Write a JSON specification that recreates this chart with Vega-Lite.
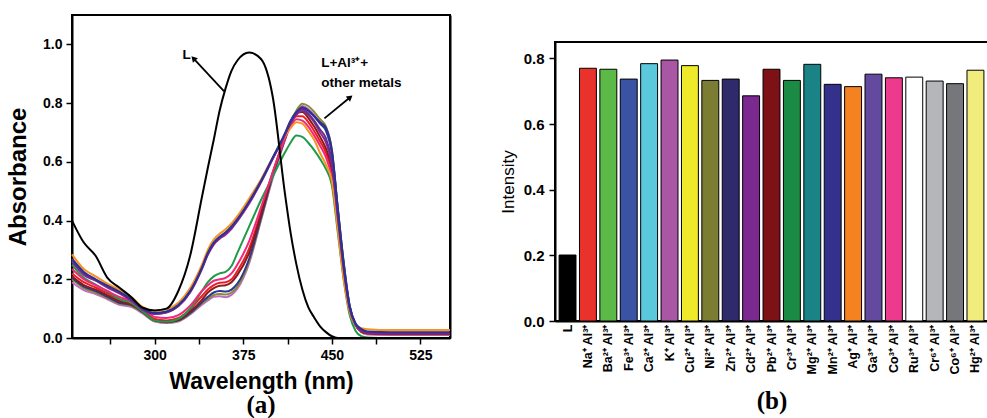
{
  "$schema": "https://vega.github.io/schema/vega-lite/v6.json",
  "padding": {"left": 5, "top": 14, "right": 0, "bottom": 0},
  "background": "white",
  "spacing": 43,
  "resolve": {"scale": {"color": "independent"}},
  "config": {
    "font": "Liberation Sans",
    "view": {"stroke": "black", "strokeWidth": 2},
    "axis": {"domainColor": "black", "domainWidth": 2, "tickColor": "black", "tickWidth": 1.5, "labelColor": "black", "titleColor": "black", "grid": false, "labelFont": "Liberation Sans", "labelFontWeight": "bold", "labelFontSize": 14, "titleFont": "Liberation Sans"}
  },
  "datasets": {
    "spec": [
      {"w":230,"L":0.40,"Ag":0.285,"Mn":0.27,"Ga":0.265,"Cd":0.26,"Co":0.235,"Pb":0.21,"Na":0.22,"Cr":0.25,"Fe":0.205,"Ni":0.2,"K":0.19},
      {"w":240,"L":0.325,"Ag":0.235,"Mn":0.225,"Ga":0.22,"Cd":0.215,"Co":0.2,"Pb":0.18,"Na":0.19,"Cr":0.205,"Fe":0.175,"Ni":0.17,"K":0.163},
      {"w":250,"L":0.28,"Ag":0.21,"Mn":0.2,"Ga":0.198,"Cd":0.195,"Co":0.18,"Pb":0.165,"Na":0.172,"Cr":0.182,"Fe":0.16,"Ni":0.155,"K":0.15},
      {"w":260,"L":0.205,"Ag":0.185,"Mn":0.178,"Ga":0.175,"Cd":0.172,"Co":0.16,"Pb":0.145,"Na":0.152,"Cr":0.158,"Fe":0.14,"Ni":0.136,"K":0.132},
      {"w":270,"L":0.172,"Ag":0.165,"Mn":0.158,"Ga":0.155,"Cd":0.152,"Co":0.14,"Pb":0.125,"Na":0.132,"Cr":0.133,"Fe":0.12,"Ni":0.117,"K":0.113},
      {"w":280,"L":0.14,"Ag":0.14,"Mn":0.133,"Ga":0.13,"Cd":0.128,"Co":0.125,"Pb":0.115,"Na":0.12,"Cr":0.12,"Fe":0.113,"Ni":0.11,"K":0.106},
      {"w":290,"L":0.103,"Ag":0.105,"Mn":0.1,"Ga":0.098,"Cd":0.096,"Co":0.1,"Pb":0.09,"Na":0.095,"Cr":0.09,"Fe":0.088,"Ni":0.086,"K":0.083},
      {"w":300,"L":0.094,"Ag":0.093,"Mn":0.085,"Ga":0.083,"Cd":0.082,"Co":0.072,"Pb":0.06,"Na":0.065,"Cr":0.06,"Fe":0.06,"Ni":0.058,"K":0.056},
      {"w":310,"L":0.1,"Ag":0.098,"Mn":0.09,"Ga":0.088,"Cd":0.087,"Co":0.068,"Pb":0.055,"Na":0.06,"Cr":0.055,"Fe":0.054,"Ni":0.053,"K":0.051},
      {"w":320,"L":0.16,"Ag":0.12,"Mn":0.112,"Ga":0.11,"Cd":0.108,"Co":0.078,"Pb":0.062,"Na":0.068,"Cr":0.065,"Fe":0.06,"Ni":0.058,"K":0.056},
      {"w":330,"L":0.28,"Ag":0.17,"Mn":0.16,"Ga":0.158,"Cd":0.155,"Co":0.11,"Pb":0.09,"Na":0.098,"Cr":0.1,"Fe":0.085,"Ni":0.083,"K":0.08},
      {"w":340,"L":0.48,"Ag":0.25,"Mn":0.24,"Ga":0.238,"Cd":0.235,"Co":0.16,"Pb":0.13,"Na":0.143,"Cr":0.16,"Fe":0.122,"Ni":0.118,"K":0.113},
      {"w":345,"L":0.58,"Ag":0.3,"Mn":0.29,"Ga":0.287,"Cd":0.283,"Co":0.18,"Pb":0.155,"Na":0.165,"Cr":0.19,"Fe":0.14,"Ni":0.133,"K":0.128},
      {"w":350,"L":0.675,"Ag":0.335,"Mn":0.325,"Ga":0.322,"Cd":0.318,"Co":0.195,"Pb":0.17,"Na":0.18,"Cr":0.21,"Fe":0.155,"Ni":0.146,"K":0.14},
      {"w":355,"L":0.775,"Ag":0.355,"Mn":0.345,"Ga":0.342,"Cd":0.338,"Co":0.2,"Pb":0.178,"Na":0.188,"Cr":0.22,"Fe":0.16,"Ni":0.15,"K":0.142},
      {"w":360,"L":0.85,"Ag":0.37,"Mn":0.36,"Ga":0.357,"Cd":0.352,"Co":0.205,"Pb":0.18,"Na":0.19,"Cr":0.225,"Fe":0.158,"Ni":0.148,"K":0.139},
      {"w":365,"L":0.91,"Ag":0.39,"Mn":0.38,"Ga":0.377,"Cd":0.372,"Co":0.22,"Pb":0.19,"Na":0.2,"Cr":0.245,"Fe":0.165,"Ni":0.155,"K":0.147},
      {"w":370,"L":0.945,"Ag":0.415,"Mn":0.405,"Ga":0.402,"Cd":0.398,"Co":0.25,"Pb":0.215,"Na":0.228,"Cr":0.29,"Fe":0.185,"Ni":0.175,"K":0.168},
      {"w":380,"L":0.972,"Ag":0.475,"Mn":0.465,"Ga":0.462,"Cd":0.458,"Co":0.33,"Pb":0.29,"Na":0.305,"Cr":0.38,"Fe":0.27,"Ni":0.262,"K":0.255},
      {"w":390,"L":0.95,"Ag":0.54,"Mn":0.535,"Ga":0.532,"Cd":0.53,"Co":0.445,"Pb":0.42,"Na":0.43,"Cr":0.47,"Fe":0.41,"Ni":0.405,"K":0.4},
      {"w":400,"L":0.82,"Ag":0.615,"Mn":0.615,"Ga":0.612,"Cd":0.61,"Co":0.565,"Pb":0.56,"Na":0.565,"Cr":0.55,"Fe":0.555,"Ni":0.55,"K":0.545},
      {"w":410,"L":0.5,"Ag":0.685,"Mn":0.695,"Ga":0.69,"Cd":0.69,"Co":0.675,"Pb":0.68,"Na":0.68,"Cr":0.63,"Fe":0.675,"Ni":0.675,"K":0.67},
      {"w":415,"L":0.36,"Ag":0.715,"Mn":0.74,"Ga":0.735,"Cd":0.73,"Co":0.72,"Pb":0.735,"Na":0.73,"Cr":0.665,"Fe":0.73,"Ni":0.735,"K":0.73},
      {"w":420,"L":0.25,"Ag":0.735,"Mn":0.77,"Ga":0.765,"Cd":0.76,"Co":0.745,"Pb":0.765,"Na":0.755,"Cr":0.69,"Fe":0.765,"Ni":0.775,"K":0.77},
      {"w":425,"L":0.165,"Ag":0.73,"Mn":0.785,"Ga":0.78,"Cd":0.775,"Co":0.74,"Pb":0.77,"Na":0.755,"Cr":0.685,"Fe":0.785,"Ni":0.798,"K":0.79},
      {"w":430,"L":0.105,"Ag":0.705,"Mn":0.775,"Ga":0.765,"Cd":0.76,"Co":0.72,"Pb":0.75,"Na":0.735,"Cr":0.665,"Fe":0.775,"Ni":0.79,"K":0.78},
      {"w":435,"L":0.07,"Ag":0.675,"Mn":0.755,"Ga":0.74,"Cd":0.735,"Co":0.69,"Pb":0.72,"Na":0.705,"Cr":0.64,"Fe":0.755,"Ni":0.77,"K":0.76},
      {"w":440,"L":0.04,"Ag":0.63,"Mn":0.735,"Ga":0.71,"Cd":0.7,"Co":0.655,"Pb":0.685,"Na":0.67,"Cr":0.61,"Fe":0.73,"Ni":0.745,"K":0.735},
      {"w":445,"L":0.02,"Ag":0.59,"Mn":0.715,"Ga":0.68,"Cd":0.665,"Co":0.615,"Pb":0.645,"Na":0.63,"Cr":0.575,"Fe":0.705,"Ni":0.72,"K":0.71},
      {"w":450,"L":0.006,"Ag":0.535,"Mn":0.64,"Ga":0.6,"Cd":0.59,"Co":0.545,"Pb":0.575,"Na":0.56,"Cr":0.52,"Fe":0.63,"Ni":0.64,"K":0.63},
      {"w":455,"L":0,"Ag":0.37,"Mn":0.44,"Ga":0.42,"Cd":0.41,"Co":0.385,"Pb":0.4,"Na":0.39,"Cr":0.36,"Fe":0.44,"Ni":0.445,"K":0.44},
      {"w":460,"L":0,"Ag":0.2,"Mn":0.25,"Ga":0.24,"Cd":0.235,"Co":0.22,"Pb":0.23,"Na":0.225,"Cr":0.2,"Fe":0.255,"Ni":0.26,"K":0.255},
      {"w":465,"L":0,"Ag":0.09,"Mn":0.11,"Ga":0.105,"Cd":0.1,"Co":0.1,"Pb":0.1,"Na":0.1,"Cr":0.08,"Fe":0.11,"Ni":0.11,"K":0.11},
      {"w":470,"L":0,"Ag":0.045,"Mn":0.05,"Ga":0.048,"Cd":0.045,"Co":0.045,"Pb":0.045,"Na":0.045,"Cr":0.025,"Fe":0.045,"Ni":0.045,"K":0.045},
      {"w":475,"L":0,"Ag":0.033,"Mn":0.03,"Ga":0.028,"Cd":0.025,"Co":0.025,"Pb":0.022,"Na":0.022,"Cr":0.006,"Fe":0.022,"Ni":0.022,"K":0.02},
      {"w":480,"L":0,"Ag":0.03,"Mn":0.022,"Ga":0.02,"Cd":0.018,"Co":0.02,"Pb":0.016,"Na":0.016,"Cr":0.002,"Fe":0.016,"Ni":0.016,"K":0.012},
      {"w":500,"L":0,"Ag":0.027,"Mn":0.02,"Ga":0.017,"Cd":0.015,"Co":0.018,"Pb":0.013,"Na":0.014,"Cr":0,"Fe":0.014,"Ni":0.014,"K":0.01},
      {"w":550,"L":0,"Ag":0.027,"Mn":0.02,"Ga":0.017,"Cd":0.015,"Co":0.018,"Pb":0.013,"Na":0.014,"Cr":0,"Fe":0.014,"Ni":0.014,"K":0.01}
    ],
    "ann": [
      {"id":"t1","t":"L","w":323.5,"abs":0.965},
      {"id":"t2","t":"L+Al³⁺+","w":441,"abs":0.935},
      {"id":"t3","t":"other metals","w":441,"abs":0.867}
    ],
    "arr": [
      {"id":"a1","w":358.8,"abs":0.84,"w2":332.8,"a2":0.952},
      {"id":"a2","w":443.7,"abs":0.748,"w2":465.5,"a2":0.82}
    ],
    "bars": [
      {"ion":"L","v":0.201},
      {"ion":"Na⁺ Al³⁺","v":0.770},
      {"ion":"Ba²⁺ Al³⁺","v":0.767},
      {"ion":"Fe³⁺ Al³⁺","v":0.737},
      {"ion":"Ca²⁺ Al³⁺","v":0.784},
      {"ion":"K⁺ Al³⁺","v":0.795},
      {"ion":"Cu²⁺ Al³⁺","v":0.778},
      {"ion":"Ni²⁺ Al³⁺","v":0.733},
      {"ion":"Zn²⁺ Al³⁺","v":0.737},
      {"ion":"Cd²⁺ Al³⁺","v":0.686},
      {"ion":"Pb²⁺ Al³⁺","v":0.767},
      {"ion":"Cr³⁺ Al³⁺","v":0.733},
      {"ion":"Mg²⁺ Al³⁺","v":0.782},
      {"ion":"Mn²⁺ Al³⁺","v":0.721},
      {"ion":"Ag⁺ Al³⁺","v":0.714},
      {"ion":"Ga³⁺ Al³⁺","v":0.752},
      {"ion":"Co³⁺ Al³⁺","v":0.741},
      {"ion":"Ru³⁺ Al³⁺","v":0.743},
      {"ion":"Cr⁶⁺ Al³⁺","v":0.731},
      {"ion":"Co⁶⁺ Al³⁺","v":0.723},
      {"ion":"Hg²⁺ Al³⁺","v":0.764}
    ]
  },
  "hconcat": [
    {
      "width": 378,
      "height": 323,
      "title": {"text": "(a)", "orient": "bottom", "anchor": "middle", "font": "Liberation Serif", "fontSize": 25, "fontWeight": "bold", "color": "black", "offset": 0},
      "layer": [
        {
          "data": {"name": "spec"},
          "transform": [{"fold": ["K","Ni","Fe","Na","Pb","Cr","Co","Ag","Cd","Ga","Mn","L"], "as": ["series","abs"]}],
          "mark": {"type": "line", "strokeWidth": 2, "interpolate": "monotone"},
          "encoding": {
            "x": {"field": "w", "type": "quantitative", "scale": {"domain": [230,550], "nice": false, "zero": false},
              "axis": {"values": [262.5,300,337.5,375,412.5,450,487.5,525,550], "labelExpr": "datum.value % 75 == 0 ? format(datum.value, 'd') : ''", "title": "Wavelength (nm)", "titleFontSize": 23, "titleFontWeight": "bold", "tickSize": 6, "tickOpacity": {"condition": {"test": "datum.value > 540", "value": 0}, "value": 1}, "grid": true, "gridColor": "black", "gridWidth": 2, "gridOpacity": {"condition": {"test": "datum.value > 540", "value": 1}, "value": 0}, "labelPadding": 4, "titlePadding": 8}},
            "y": {"field": "abs", "type": "quantitative", "scale": {"domain": [0,1.1], "nice": false},
              "axis": {"values": [0,0.1,0.2,0.3,0.4,0.5,0.6,0.7,0.8,0.9,1.0,1.1], "labelExpr": "round(datum.value*10) % 2 == 0 ? format(datum.value, '.1f') : ''", "tickSize": {"condition": {"test": "round(datum.value*10) % 2 == 0", "value": 6}, "value": 3}, "tickOpacity": {"condition": {"test": "datum.value > 1.05", "value": 0}, "value": 1}, "grid": true, "gridColor": "black", "gridWidth": 2, "gridOpacity": {"condition": {"test": "datum.value > 1.05", "value": 1}, "value": 0}, "labelPadding": 4, "title": "Absorbance", "titleFontSize": 24, "titleFontWeight": "bold", "titlePadding": 12}},
            "color": {"field": "series", "type": "nominal", "legend": null,
              "scale": {"domain": ["K","Ni","Fe","Na","Pb","Cr","Co","Ag","Cd","Ga","Mn","L"],
                        "range": ["#c06fc0","#8a8a3a","#2b3990","#ed1c24","#8b1a1a","#1f9a48","#ec297b","#f7941d","#92278f","#662d91","#2e3192","#000000"]}}
          }
        },
        {
          "data": {"name": "ann"},
          "mark": {"type": "text", "align": "left", "baseline": "middle", "fontWeight": "bold", "fontSize": 13.5, "color": "black"},
          "encoding": {
            "x": {"field": "w", "type": "quantitative"},
            "y": {"field": "abs", "type": "quantitative"},
            "text": {"field": "t"}
          }
        },
        {
          "data": {"name": "arr"},
          "mark": {"type": "rule", "color": "black", "strokeWidth": 1.8},
          "encoding": {
            "x": {"field": "w", "type": "quantitative"},
            "y": {"field": "abs", "type": "quantitative"},
            "x2": {"field": "w2"},
            "y2": {"field": "a2"}
          }
        },
        {
          "data": {"name": "arr"},
          "transform": [{"filter": "datum.id == 'a1'"}],
          "mark": {"type": "point", "shape": "triangle-up", "filled": true, "color": "black", "size": 45, "angle": 317, "opacity": 1},
          "encoding": {
            "x": {"field": "w2", "type": "quantitative"},
            "y": {"field": "a2", "type": "quantitative"}
          }
        },
        {
          "data": {"name": "arr"},
          "transform": [{"filter": "datum.id == 'a2'"}],
          "mark": {"type": "point", "shape": "triangle-up", "filled": true, "color": "black", "size": 45, "angle": 51, "opacity": 1},
          "encoding": {
            "x": {"field": "w2", "type": "quantitative"},
            "y": {"field": "a2", "type": "quantitative"}
          }
        }
      ]
    },
    {
      "spacing": 0,
      "vconcat": [
        {
          "width": 433,
          "height": 26,
          "view": {"stroke": null},
          "data": {"values": []},
          "mark": "point",
          "encoding": {}
        },
        {
          "width": 433,
          "height": 279,
          "data": {"name": "bars"},
          "mark": {"type": "bar", "stroke": "black", "strokeWidth": 1},
          "encoding": {
            "x": {"field": "ion", "type": "nominal", "sort": null, "scale": {"paddingInner": 0.17, "paddingOuter": 0.2},
              "axis": {"labelAngle": -90, "labelFontSize": 12.5, "ticks": false, "labelPadding": 3, "title": "(b)", "titleFont": "Liberation Serif", "titleFontSize": 25, "titleFontWeight": "bold", "titlePadding": 14}},
            "y": {"field": "v", "type": "quantitative", "scale": {"domain": [0,0.85], "nice": false},
              "axis": {"values": [0,0.2,0.4,0.6,0.8], "format": ".1f", "labelFontSize": 15, "title": "Intensity", "titleFontSize": 17, "titleFontWeight": "normal", "tickSize": 6, "labelPadding": 5, "titlePadding": 6}},
            "color": {"field": "ion", "type": "nominal", "legend": null,
              "scale": {"domain": ["L","Na⁺ Al³⁺","Ba²⁺ Al³⁺","Fe³⁺ Al³⁺","Ca²⁺ Al³⁺","K⁺ Al³⁺","Cu²⁺ Al³⁺","Ni²⁺ Al³⁺","Zn²⁺ Al³⁺","Cd²⁺ Al³⁺","Pb²⁺ Al³⁺","Cr³⁺ Al³⁺","Mg²⁺ Al³⁺","Mn²⁺ Al³⁺","Ag⁺ Al³⁺","Ga³⁺ Al³⁺","Co³⁺ Al³⁺","Ru³⁺ Al³⁺","Cr⁶⁺ Al³⁺","Co⁶⁺ Al³⁺","Hg²⁺ Al³⁺"],
                        "range": ["#000000","#e8322b","#5bb947","#3a53a4","#5bc8dc","#a956a4","#eee92a","#7a7d32","#2e2a6b","#7b2890","#7d1115","#1b8a45","#1a8385","#33318c","#f58220","#634a9e","#ee3a8c","#ffffff","#b4b6b9","#76777a","#f2ec7c"]}}
          }
        }
      ]
    }
  ]
}
